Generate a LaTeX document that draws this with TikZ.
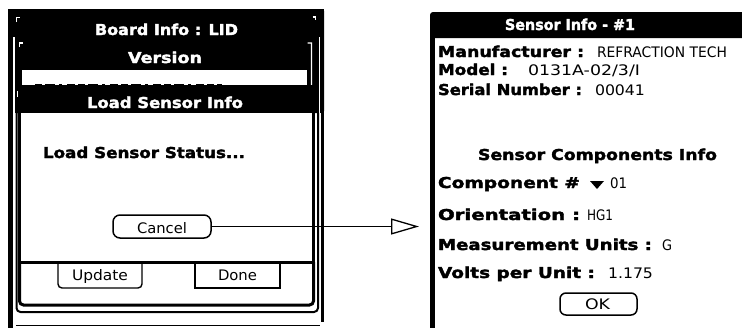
\documentclass[tikz,border=0pt]{standalone}
\usepackage{fontspec}
\setmainfont{DejaVu Sans}
\newfontfamily\palmbold{DejaVu Sans Bold}[FakeBold=2]
\usetikzlibrary{arrows.meta}
\newcommand{\tw}[2]{\resizebox{#1pt}{\height}{#2}}
\tikzset{
  lbl/.style={anchor=base west, inner sep=0pt, outer sep=0pt, font=\fontsize{14.5}{16}\selectfont},
  bl/.style={anchor=base west, inner sep=0pt, outer sep=0pt, font=\fontsize{15}{17}\palmbold},
  wl/.style={bl, text=white},
  btn/.style={draw, line width=1.5pt, rounded corners=7pt, inner sep=0pt, fill=white},
  wmark/.style={draw=white, line width=1.2pt},
}
\begin{document}
\begin{tikzpicture}[x=1pt,y=-1pt]
\clip (0,0) rectangle (742,327);
\fill[white] (0,0) rectangle (742,327);

% ---------------- left screen ----------------
% top black area
\fill[rounded corners=2pt] (8,9) rectangle (324,113);
% outer frame
\fill (8,9) rectangle (12.8,330);
\fill (321,9) rectangle (324,322);
\draw[line width=1.3pt] (12,325.3) -- (320,325.3);
% white gaps inside black top
\draw[wmark] (13.9,37) -- (13.9,113);
\draw[wmark] (319.6,37) -- (319.6,113);
\fill[white] (13.2,113) rectangle (15.5,330);
\fill[white] (319,113) rectangle (321,322);
% small white corner marks
\draw[wmark] (16.5,22) -- (16.5,17.5) -- (19.5,17.5);
\draw[wmark] (312.5,17) -- (315.5,17) -- (315.5,20);
\draw[wmark] (19.5,47) -- (19.5,43) -- (22.5,43);
\draw[wmark] (17.5,91) -- (17.5,96) -- (20,96);
\draw[wmark] (307.5,43) -- (311.5,43) -- (311.5,87) -- (314.5,89.5);
% middle frame
\draw[line width=2pt, rounded corners=4pt] (16.5,113) -- (16.5,312) -- (318,312) -- (318,113);
% inner form
\draw[line width=3pt, rounded corners=4pt] (19.5,262) -- (19.5,305) -- (313.5,305) -- (313.5,262);
% field bar
\fill[white] (22,70) rectangle (307,85);
\draw[line width=2pt, dash pattern=on 7pt off 3pt on 10pt off 4pt on 3pt off 5pt on 8pt off 3pt] (35,84.5) -- (222,84.5);
% Update / Done buttons
\draw[line width=1.4pt, rounded corners=4pt] (58,262) -- (58,288) -- (142,288) -- (142,262);
\node[draw, line width=1.3pt, minimum width=85pt, minimum height=26pt, inner sep=0pt] (done) at (237.5,275) {};
\node[lbl] (tupd) at (72,280) {\tw{56}{Update}};
\node[lbl] (tdone) at (218,280) {\tw{39}{Done}};
% dialog
\fill (17.5,85) rectangle (315,113);
\draw[line width=3pt, fill=white] (19,113) -- (19,262.5) -- (313.5,262.5) -- (313.5,113);
\node[wl] (tbi) at (95,35) {\tw{143}{Board Info : LID}};
\node[wl] (tver) at (128,63) {\tw{74}{Version}};
\node[wl] (tlsi) at (87,108) {\tw{156}{Load Sensor Info}};
\node[bl] (tlss) at (43,158) {\tw{202}{Load Sensor Status...}};
\node[btn, minimum width=98pt, minimum height=23pt] (cancel) at (162,226.5) {};
\node[lbl] (tcan) at (137,233) {\tw{50}{Cancel}};

% ---------------- right screen ----------------
\fill[rounded corners=3pt] (430,12) rectangle (760,38);
\fill (430,25) rectangle (434.5,330);
\node[wl] (tsi) at (505,30) {\tw{130}{Sensor Info - \#1}};
\node[bl] (tman) at (438,57) {\tw{146}{Manufacturer :}};
\node[lbl] (vman) at (597,57) {\tw{130}{REFRACTION TECH}};
\node[bl] (tmod) at (438,75) {\tw{70}{Model :}};
\node[lbl] (vmod) at (528,75) {\tw{112}{0131A-02/3/I}};
\node[bl] (tser) at (438,95) {\tw{144}{Serial Number :}};
\node[lbl] (vser) at (595,95) {\tw{50}{00041}};
\node[bl] (tsci) at (478,160) {\tw{239}{Sensor Components Info}};
\node[bl] (tcom) at (438,188) {\tw{142}{Component \#}};
\fill (590,181) -- (604,181) -- (597,189) -- cycle;
\node[lbl] (vcom) at (610,188) {\tw{17}{01}};
\node[bl] (tori) at (438,220) {\tw{142}{Orientation :}};
\node[lbl] (vori) at (587,220) {\tw{26}{HG1}};
\node[bl] (tmea) at (438,250) {\tw{214}{Measurement Units :}};
\node[lbl] (vmea) at (662,250) {\tw{10}{G}};
\node[bl] (tvol) at (438,278) {\tw{157}{Volts per Unit :}};
\node[lbl] (vvol) at (608,278) {\tw{45}{1.175}};
\node[btn, minimum width=77pt, minimum height=22pt, rounded corners=6pt] (ok) at (598.5,304) {};
\node[lbl] (tok) at (585,309) {\tw{25}{OK}};

% ---------------- connector ----------------
\coordinate (tip) at (419,226.5);
\draw[line width=1.5pt, -{Triangle[open, length=28pt, width=16pt, line width=1.3pt]}] (cancel.east) -- (tip);
\end{tikzpicture}
\end{document}
